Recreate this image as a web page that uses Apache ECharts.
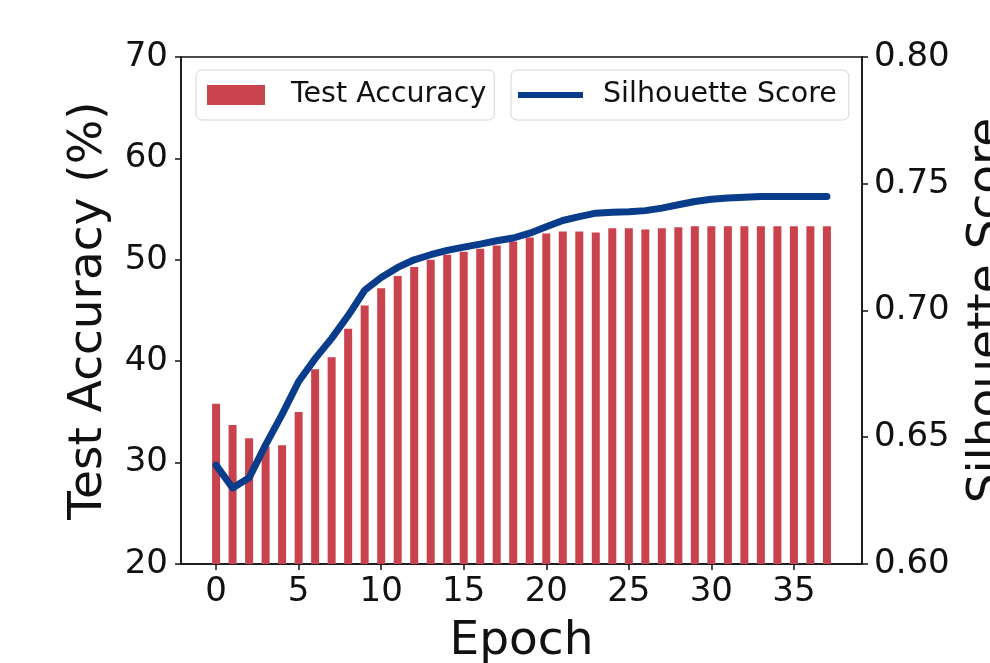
<!DOCTYPE html>
<html>
<head>
<meta charset="utf-8">
<script src="https://cdn.jsdelivr.net/npm/echarts@6/dist/echarts.min.js"></script>
<style>
  html, body { margin: 0; padding: 0; background: #fff; }
  #chart { width: 990px; height: 663px; }
</style>
</head>
<body>
<div id="chart"></div>
<script>
// epochs 0..37
var epochs = [0, 1, 2, 3, 4, 5, 6, 7, 8, 9, 10, 11, 12, 13, 14, 15, 16, 17, 18, 19,
  20, 21, 22, 23, 24, 25, 26, 27, 28, 29, 30, 31, 32, 33, 34, 35, 36, 37];
// test accuracy (%) per epoch
var testAccuracy = [35.8, 33.7, 32.4, 31.6, 31.7, 35.0, 39.2, 40.4, 43.2, 45.5,
  47.2, 48.4, 49.3, 50.0, 50.5, 50.8, 51.1, 51.4, 51.8, 52.2,
  52.6, 52.8, 52.8, 52.7, 53.1, 53.1, 53.0, 53.1, 53.2, 53.3,
  53.3, 53.3, 53.3, 53.3, 53.3, 53.3, 53.3, 53.3];
// silhouette score per epoch
var silhouette = [0.639, 0.630, 0.634, 0.647, 0.659, 0.672, 0.681, 0.689, 0.698, 0.708,
  0.713, 0.717, 0.720, 0.722, 0.7237, 0.725, 0.7262, 0.7275, 0.7286, 0.7305,
  0.733, 0.7355, 0.737, 0.7384, 0.7388, 0.739, 0.7394, 0.7404, 0.7417, 0.743,
  0.7439, 0.7444, 0.7447, 0.745, 0.745, 0.745, 0.745, 0.745];
var xTicks = [0, 5, 10, 15, 20, 25, 30, 35];

var chart = echarts.init(document.getElementById('chart'));
var FONT = 'DejaVu Sans';
var INK = '#111';

function pairs(ys) {
  return epochs.map(function(e, i) { return [e, ys[i]]; });
}

var option = {
  animation: false,
  textStyle: { fontFamily: FONT },
  grid: {
    left: 181, right: 128, top: 57, bottom: 99,
    outerBoundsMode: 'none', containLabel: false,
    show: true, borderColor: INK, borderWidth: 1.5, backgroundColor: 'transparent'
  },
  legend: [{
    left: 196, top: 70,
    data: [{ name: 'Test Accuracy', icon: 'rect' }],
    itemWidth: 58, itemHeight: 20,
    padding: [10, 8, 10, 11],
    borderColor: '#d4d4d4', borderWidth: 1, borderRadius: 6,
    backgroundColor: 'rgba(255,255,255,0.85)',
    textStyle: { fontFamily: FONT, fontSize: 28.5, color: INK, lineHeight: 30, padding: [0, 0, 0, 21] }
  }, {
    left: 511, top: 70,
    data: [{ name: 'Silhouette Score', icon: 'rect' }],
    itemWidth: 65, itemHeight: 6,
    padding: [10, 12, 10, 7],
    borderColor: '#d4d4d4', borderWidth: 1, borderRadius: 6,
    backgroundColor: 'rgba(255,255,255,0.85)',
    textStyle: { fontFamily: FONT, fontSize: 28.5, color: INK, lineHeight: 30, padding: [0, 0, 0, 15] }
  }],
  xAxis: {
    type: 'value',
    min: -2.125, max: 39.125,
    name: 'Epoch', nameLocation: 'middle', nameGap: 54,
    nameTextStyle: { fontFamily: FONT, fontSize: 47, color: INK },
    axisLine: { show: true, onZero: false, lineStyle: { color: INK, width: 1.5 } },
    axisTick: { show: true, length: 6, customValues: xTicks, lineStyle: { color: INK, width: 1.5 } },
    axisLabel: { customValues: xTicks, fontFamily: FONT, fontSize: 34, color: INK, margin: 11 },
    splitLine: { show: false }
  },
  yAxis: [{
    type: 'value',
    min: 20, max: 70, interval: 10,
    position: 'left',
    name: 'Test Accuracy (%)', nameLocation: 'middle', nameGap: 69, nameRotate: 90,
    nameTextStyle: { fontFamily: FONT, fontSize: 47, color: INK },
    axisLine: { show: true, onZero: false, lineStyle: { color: INK, width: 1.5 } },
    axisTick: { show: true, length: 6, lineStyle: { color: INK, width: 1.5 } },
    axisLabel: { fontFamily: FONT, fontSize: 34, color: INK, margin: 13 },
    splitLine: { show: false }
  }, {
    type: 'value',
    min: 0.60, max: 0.80, interval: 0.05,
    position: 'right',
    name: 'Silhouette Score', nameLocation: 'middle', nameGap: 102, nameRotate: 90,
    nameTextStyle: { fontFamily: FONT, fontSize: 47, color: INK },
    axisLine: { show: true, onZero: false, lineStyle: { color: INK, width: 1.5 } },
    axisTick: { show: true, length: 6, lineStyle: { color: INK, width: 1.5 } },
    axisLabel: {
      fontFamily: FONT, fontSize: 34, color: INK, margin: 12,
      formatter: function(v) { return v.toFixed(2); }
    },
    splitLine: { show: false }
  }],
  series: [{
    name: 'Test Accuracy',
    type: 'bar',
    yAxisIndex: 0,
    barWidth: 8,
    itemStyle: { color: '#c9434e' },
    data: pairs(testAccuracy)
  }, {
    name: 'Silhouette Score',
    type: 'line',
    yAxisIndex: 1,
    showSymbol: false,
    symbol: 'none',
    lineStyle: { color: '#0a3c8c', width: 7, join: 'round', cap: 'round' },
    itemStyle: { color: '#0a3c8c' },
    data: pairs(silhouette)
  }]
};

chart.setOption(option);
</script>
</body>
</html>
